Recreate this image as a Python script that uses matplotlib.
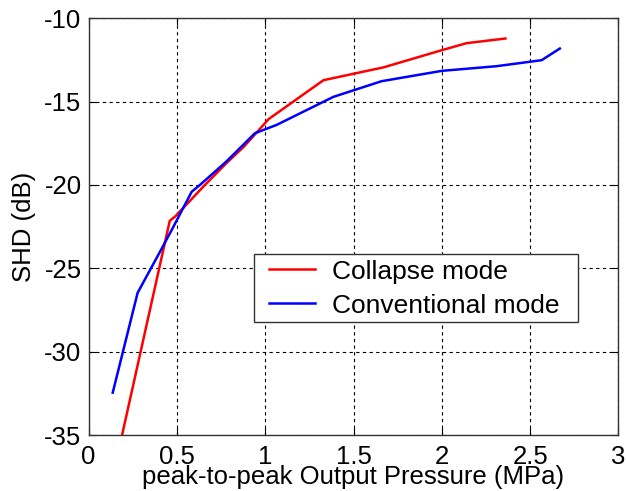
import matplotlib
matplotlib.use("Agg")
import matplotlib.pyplot as plt
from matplotlib.patches import Rectangle

plt.rcParams['font.family'] = ['Liberation Sans', 'DejaVu Sans']
plt.rcParams['axes.unicode_minus'] = False

# Collapse mode
collapse_p = [0.19, 0.46, 0.49, 0.65, 0.78, 0.88, 1.02, 1.33, 1.67, 2.0, 2.14, 2.36]
collapse_shd = [-35.0, -22.15, -21.9, -20.1, -18.7, -17.7, -16.05, -13.72, -12.95, -11.92, -11.5, -11.22]

# Conventional mode
conv_p = [0.137, 0.278, 0.405, 0.471, 0.584, 0.631, 0.78, 0.942, 1.065, 1.386, 1.659, 2.0, 2.31, 2.565, 2.668]
conv_shd = [-32.46, -26.47, -24.0, -22.7, -20.41, -20.0, -18.6, -16.9, -16.4, -14.72, -13.78, -13.16, -12.88, -12.52, -11.82]

xticks = [0, 0.5, 1, 1.5, 2, 2.5, 3]
xtick_labels = ['0', '0.5', '1', '1.5', '2', '2.5', '3']
yticks = [-35, -30, -25, -20, -15, -10]
ytick_labels = ['-35', '-30', '-25', '-20', '-15', '-10']

FS = 18.5
EDGE = '#333333'

fig = plt.figure(figsize=(6.26, 4.91), dpi=100)
ax = fig.add_axes([0.1414, 0.114, 0.8466, 0.849])

ax.plot(collapse_p, collapse_shd, color='#ff0000', lw=1.8, label='Collapse mode')
ax.plot(conv_p, conv_shd, color='#0000ff', lw=1.8, label='Conventional mode')

ax.set_xlim(0, 3)
ax.set_ylim(-35, -10)
ax.set_xticks(xticks)
ax.set_xticklabels(xtick_labels)
ax.set_yticks(yticks)
ax.set_yticklabels(ytick_labels)
ax.tick_params(direction='in', length=5, width=0.8, labelsize=FS, top=True, right=True)
ax.tick_params(axis='x', pad=7)
ax.tick_params(axis='y', pad=5)
ax.grid(True, color='black', linestyle=(0, (3, 3)), linewidth=0.8)
for s in ax.spines.values():
    s.set_color(EDGE)
    s.set_linewidth(1.0)

ax.set_xlabel('peak-to-peak Output Pressure (MPa)', fontsize=FS, labelpad=-3)
ax.set_ylabel('SHD (dB)', fontsize=FS, labelpad=6)

# legend box drawn as a plain rectangle, entries placed inside it
ax.add_patch(Rectangle((0.312, 0.272), 0.611, 0.163, transform=ax.transAxes,
                       facecolor='white', edgecolor=EDGE, linewidth=1.0, zorder=4))
leg = ax.legend(loc='upper left', bbox_to_anchor=(0.3406, 0.421),
                fontsize=19, frameon=False, handlelength=1.75,
                borderpad=0, labelspacing=0.38, handletextpad=0.65, borderaxespad=0)
leg.set_zorder(5)

fig.savefig('out.png', dpi=100)
